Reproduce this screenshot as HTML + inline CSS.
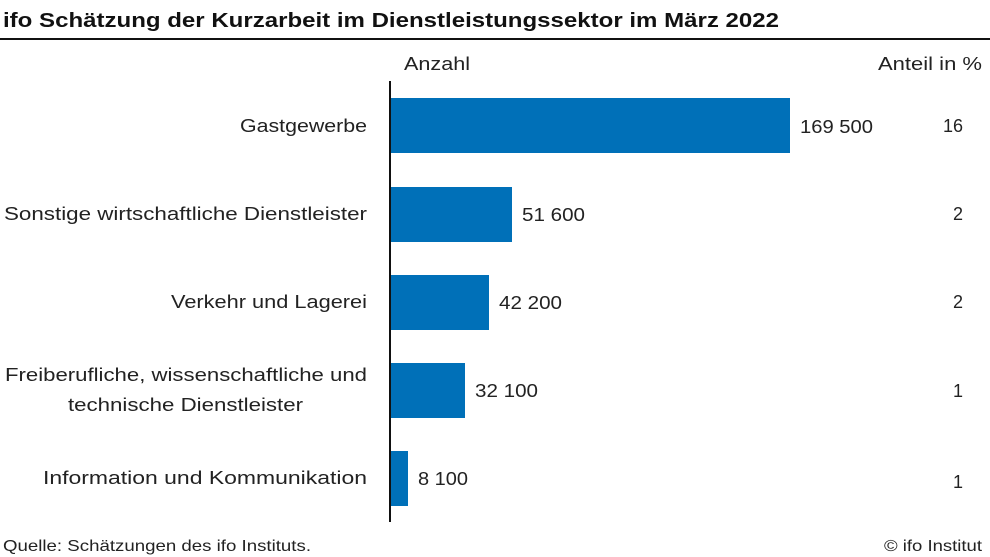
<!DOCTYPE html>
<html><head><meta charset="utf-8"><style>
html,body{margin:0;padding:0;background:#fff;}
svg{display:block;font-family:"Liberation Sans",sans-serif;}
</style></head><body>
<svg width="990" height="557" viewBox="0 0 990 557" xmlns="http://www.w3.org/2000/svg">
<text x="3" y="27" font-size="20" font-weight="bold" fill="#111" textLength="776" lengthAdjust="spacingAndGlyphs">ifo Schätzung der Kurzarbeit im Dienstleistungssektor im März 2022</text>
<rect x="0" y="38" width="990" height="2" fill="#111"/>
<g font-size="18" fill="#222">
<text x="404" y="70" textLength="66" lengthAdjust="spacingAndGlyphs">Anzahl</text>
<text x="982" y="70" text-anchor="end" textLength="104" lengthAdjust="spacingAndGlyphs">Anteil in %</text>
</g>
<rect x="389" y="81" width="2" height="441" fill="#111"/>
<g fill="#0070b8">
<rect x="391" y="98" width="399" height="55"/>
<rect x="391" y="187" width="121" height="55"/>
<rect x="391" y="275" width="98" height="55"/>
<rect x="391" y="363" width="74" height="55"/>
<rect x="391" y="451" width="17" height="55"/>
</g>
<g font-size="18" fill="#222" text-anchor="end">
<text x="367" y="132" textLength="127" lengthAdjust="spacingAndGlyphs">Gastgewerbe</text>
<text x="367" y="220" textLength="363" lengthAdjust="spacingAndGlyphs">Sonstige wirtschaftliche Dienstleister</text>
<text x="367" y="308" textLength="196" lengthAdjust="spacingAndGlyphs">Verkehr und Lagerei</text>
<text x="367" y="381" textLength="362" lengthAdjust="spacingAndGlyphs">Freiberufliche, wissenschaftliche und</text>
<text x="303" y="411" textLength="235" lengthAdjust="spacingAndGlyphs">technische Dienstleister</text>
<text x="367" y="484" textLength="324" lengthAdjust="spacingAndGlyphs">Information und Kommunikation</text>
<text x="963" y="132">16</text>
<text x="963" y="220">2</text>
<text x="963" y="308">2</text>
<text x="963" y="397">1</text>
<text x="963" y="488">1</text>
</g>
<g font-size="18" fill="#222">
<text x="800" y="133" textLength="73" lengthAdjust="spacingAndGlyphs">169 500</text>
<text x="522" y="221" textLength="63" lengthAdjust="spacingAndGlyphs">51 600</text>
<text x="499" y="309" textLength="63" lengthAdjust="spacingAndGlyphs">42 200</text>
<text x="475" y="397" textLength="63" lengthAdjust="spacingAndGlyphs">32 100</text>
<text x="418" y="485" textLength="50" lengthAdjust="spacingAndGlyphs">8 100</text>
</g>
<g font-size="16" fill="#222">
<text x="3" y="551" textLength="308" lengthAdjust="spacingAndGlyphs">Quelle: Schätzungen des ifo Instituts.</text>
<text x="982" y="551" text-anchor="end" textLength="98" lengthAdjust="spacingAndGlyphs">© ifo Institut</text>
</g>
</svg>
</body></html>
